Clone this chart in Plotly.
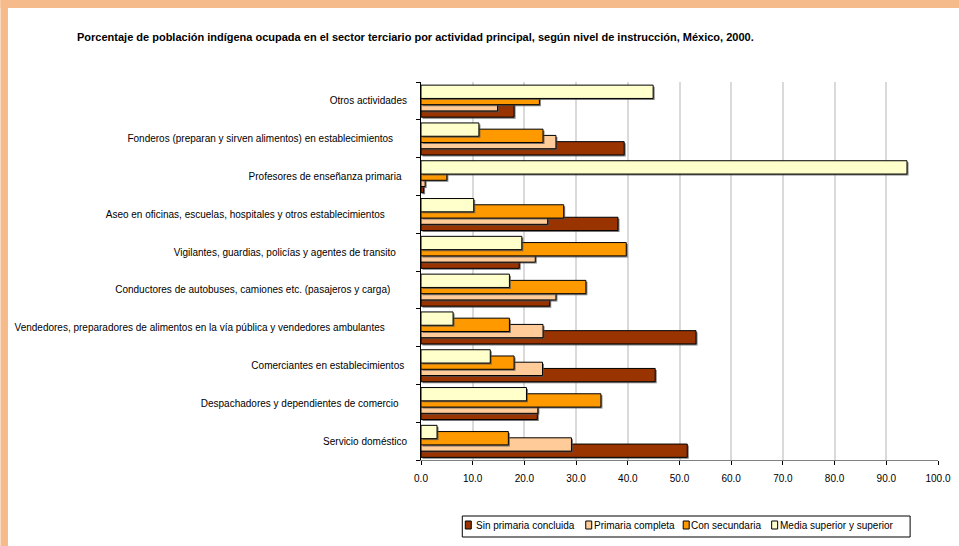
import plotly.graph_objects as go

# Categories (bottom to top as drawn)
categories = [
    "Servicio doméstico",
    "Despachadores y dependientes de comercio",
    "Comerciantes en establecimientos",
    "Vendedores, preparadores de alimentos en la vía pública y vendedores ambulantes",
    "Conductores de autobuses, camiones etc. (pasajeros y carga)",
    "Vigilantes, guardias, policías y agentes de transito",
    "Aseo en oficinas, escuelas, hospitales y otros establecimientos",
    "Profesores de enseñanza primaria",
    "Fonderos (preparan y sirven alimentos) en establecimientos",
    "Otros actividades",
]
label_pad = [0, 3, 1, 8, 6, 4, 8, 2, 5, 0]

series_names = ["Sin primaria concluida", "Primaria completa", "Con secundaria", "Media superior y superior"]
sin_primaria = [51.5, 22.5, 45.3, 53.2, 24.9, 19.0, 38.1, 0.5, 39.3, 18.0]
primaria = [29.1, 22.6, 23.5, 23.6, 26.1, 22.1, 24.5, 0.8, 26.1, 14.8]
secundaria = [16.9, 34.8, 18.0, 17.1, 31.9, 39.7, 27.6, 5.0, 23.6, 22.9]
media_sup = [3.1, 20.4, 13.4, 6.2, 17.1, 19.5, 10.2, 94.0, 11.2, 44.9]

x_ticks = [0, 10, 20, 30, 40, 50, 60, 70, 80, 90, 100]
x_ticktext = ["%.1f" % v for v in x_ticks]

title = "Porcentaje de población indígena ocupada en el sector terciario por actividad principal, según nivel de instrucción, México, 2000."

colors = ["#993300", "#FFCC99", "#FF9900", "#FFFFCC"]
offsets = [-0.43, -0.265, -0.10, 0.065]
bar_w = 0.352

ylabels = [c + "\u00a0" * p for c, p in zip(categories, label_pad)]
values = [sin_primaria, primaria, secundaria, media_sup]

FONT = "Liberation Sans, Arial, sans-serif"

# plot area geometry in pixels
L, R, T, B = 420.7, 937.9, 82.0, 460.0
W, H = 959, 546
x_per_px = 100.0 / (R - L)
cat_per_px = len(categories) / (B - T)
shadow_px = 1.5

fig = go.Figure()
for name, vals, col, off in zip(series_names, values, colors, offsets):
    # soft drop shadow (Excel style)
    fig.add_trace(go.Bar(
        x=vals, y=ylabels, orientation="h", base=shadow_px * x_per_px,
        offset=off - shadow_px * cat_per_px, width=bar_w,
        marker=dict(color="rgba(80,80,80,0.75)", line=dict(width=0)),
        showlegend=False, hoverinfo="skip",
    ))
    fig.add_trace(go.Bar(
        name=name, x=vals, y=ylabels, orientation="h",
        offset=off, width=bar_w,
        marker=dict(color=col, line=dict(color="#000000", width=1)),
        showlegend=False,
    ))

def px(x):
    return (x - L) / (R - L)

def py(y):
    return (B - y) / (B - T)

shapes = []
peach = "#F5BB8A"
# page frame (top and left band)
shapes.append(dict(type="rect", xref="paper", yref="paper", x0=px(0), x1=px(W), y0=py(8), y1=py(0),
                   fillcolor=peach, line=dict(width=0), layer="above"))
shapes.append(dict(type="rect", xref="paper", yref="paper", x0=px(0), x1=px(7.5), y0=py(H), y1=py(0),
                   fillcolor=peach, line=dict(width=0), layer="above"))
# legend box
shapes.append(dict(type="rect", xref="paper", yref="paper", x0=px(462), x1=px(910), y0=py(537), y1=py(516),
                   fillcolor="white", line=dict(color="#000000", width=1)))

annotations = [dict(text="<b>" + title + "</b>", xref="paper", yref="paper", x=px(415), y=py(37),
                    xanchor="center", yanchor="middle", showarrow=False,
                    font=dict(family=FONT, size=11, color="#000000"))]

leg_sym_x = [465, 585.5, 683, 771.5]
leg_txt_x = [474, 592, 689, 778]
for name, col, sx, tx in zip(series_names, colors, leg_sym_x, leg_txt_x):
    shapes.append(dict(type="rect", xref="paper", yref="paper", x0=px(sx), x1=px(sx + 6), y0=py(529), y1=py(521),
                       fillcolor=col, line=dict(color="#000000", width=1)))
    annotations.append(dict(text=name, xref="paper", yref="paper", x=px(tx), y=py(525.5),
                            xanchor="left", yanchor="middle", showarrow=False,
                            font=dict(family=FONT, size=10, color="#000000")))

fig.update_layout(
    width=W, height=H,
    margin=dict(l=L, r=W - R, t=T, b=H - B, pad=0),
    paper_bgcolor="white", plot_bgcolor="white",
    barmode="overlay",
    font=dict(family=FONT, size=10, color="#000000"),
    shapes=shapes, annotations=annotations,
    xaxis=dict(range=[0, 100], tickvals=x_ticks, ticktext=x_ticktext,
               showgrid=True, gridcolor="#DADADA", gridwidth=2,
               zeroline=False, showline=True, linecolor="#808080", linewidth=1,
               ticks="outside", ticklen=4, tickcolor="#000000",
               ticklabelstandoff=5,
               tickfont=dict(family=FONT, size=10), automargin=False, fixedrange=True),
    yaxis=dict(type="category", categoryorder="array", categoryarray=ylabels,
               range=[-0.5, len(categories) - 0.5],
               showgrid=False, zeroline=False, showline=True, linecolor="#000000", linewidth=1,
               ticks="outside", ticklen=4, tickcolor="#000000", tickson="boundaries",
               ticklabelstandoff=11,
               tickfont=dict(family=FONT, size=10), automargin=False, fixedrange=True),
)

fig.write_html("out.html")
